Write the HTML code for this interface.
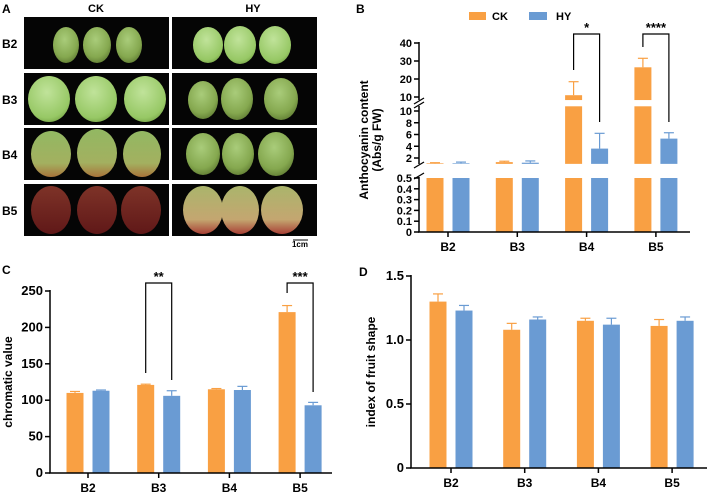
<!DOCTYPE html>
<html><head><meta charset="utf-8"><style>
body{margin:0;background:#fff;width:708px;height:498px;overflow:hidden}
svg{font-family:"Liberation Sans",Arial,sans-serif}
</style></head><body>
<svg id="s" width="708" height="498" viewBox="0 0 708 498">
<defs>
<radialGradient id="g" cx="45%" cy="35%" r="70%"><stop offset="0" stop-color="#a9cc7a"/><stop offset="0.7" stop-color="#85a84f"/><stop offset="1" stop-color="#5e7a32"/></radialGradient>
<radialGradient id="gl" cx="45%" cy="35%" r="70%"><stop offset="0" stop-color="#c0e39a"/><stop offset="0.8" stop-color="#97c865"/><stop offset="1" stop-color="#76a346"/></radialGradient>
<linearGradient id="gb4" x1="0" y1="0" x2="0" y2="1"><stop offset="0" stop-color="#92b862"/><stop offset="0.7" stop-color="#a3b060"/><stop offset="1" stop-color="#a8743a"/></linearGradient>
<linearGradient id="gr" x1="0" y1="0" x2="0" y2="1"><stop offset="0" stop-color="#7e3328"/><stop offset="1" stop-color="#601818"/></linearGradient>
<linearGradient id="gy" x1="0" y1="0" x2="0" y2="1"><stop offset="0" stop-color="#aab56c"/><stop offset="0.7" stop-color="#c4a670"/><stop offset="1" stop-color="#a84036"/></linearGradient>
</defs>
<g id="pa"></g>
<g id="pb"></g>
<g id="pc"></g>
<g id="pd"></g>
</svg>
<script>
const categories=["B2","B3","B4","B5"];
const anthoCK=[1.1,1.3,11,26.5];
const anthoCKErr=[0.1,0.15,7.5,5];
const anthoHY=[1.1,1.2,3.6,5.3];
const anthoHYErr=[0.2,0.3,2.6,1.0];
const chromCK=[110,121,115,221];
const chromCKErr=[2,1,1,9];
const chromHY=[113,106,114,93];
const chromHYErr=[1,7,5,4];
const shapeCK=[1.30,1.08,1.15,1.11];
const shapeCKErr=[0.06,0.05,0.02,0.05];
const shapeHY=[1.23,1.16,1.12,1.15];
const shapeHYErr=[0.04,0.02,0.05,0.03];
const chromTicks=[0,50,100,150,200,250];
const shapeTicks=[0,0.5,1.0,1.5];
const shapeTickLabels=["0","0.5","1.0","1.5"];
const anthoLowTicks=[0,0.1,0.2,0.3,0.4,0.5];
const anthoMidTicks=[2,4,6,8,10];
const anthoHighTicks=[10,20,30,40];

const NS="http://www.w3.org/2000/svg";
const OR="#F9A043",BL="#6A9BD3";
function mk(p,t,a,txt){const e=document.createElementNS(NS,t);for(const k in a)e.setAttribute(k,a[k]);if(txt!=null)e.textContent=txt;p.appendChild(e);return e;}

// Panel A
const pa=document.getElementById('pa');
let t=mk(pa,'text',{x:2,y:13,'font-size':12,'font-weight':'bold'},'A');

t=mk(pa,'text',{x:96,y:12,'font-size':11,'font-weight':'bold','text-anchor':'middle'},'CK');

t=mk(pa,'text',{x:253,y:12,'font-size':11,'font-weight':'bold','text-anchor':'middle'},'HY');

const rowsY=[17,73,128,184];
const fruits=[
 [[[66,45,13,18],[97,45,14,18],[129,45,13,18]],[[208,45,15,18],[240,45,16,19],[275,45,16,19]],'url(#g)','url(#gl)'],
 [[[49,99,21,23],[96,99,21,23],[145,99,21,23]],[[203,100,15,19],[237,99,16,21],[281,99,17,21]],'url(#gl)','url(#g)'],
 [[[51,154,20,23],[97,153,20,24],[142,154,19,23]],[[203,154,17,21],[238,154,16,21],[276,154,18,22]],'url(#gb4)','url(#g)'],
 [[[51,210,20,24],[97,210,20,24],[141,210,20,24]],[[203,210,20,24],[240,210,19,24],[282,210,21,24]],'url(#gr)','url(#gy)']
];
fruits.forEach((r,i)=>{
 const bg1=mk(pa,'rect',{x:24,y:rowsY[i],width:145,height:52,fill:'#050505'});
 
 const bg2=mk(pa,'rect',{x:172,y:rowsY[i],width:145,height:52,fill:'#050505'});
 
 r[0].forEach(f=>{const e=mk(pa,'ellipse',{cx:f[0],cy:f[1],rx:f[2],ry:f[3],fill:r[2]});});
 r[1].forEach(f=>{const e=mk(pa,'ellipse',{cx:f[0],cy:f[1],rx:f[2],ry:f[3],fill:r[3]});});
 const l=mk(pa,'text',{x:2,y:rowsY[i]+31,'font-size':12,'font-weight':'bold'},categories[i]);
 
});
mk(pa,'line',{x1:293,y1:240,x2:308,y2:240,stroke:'#000','stroke-width':1});
t=mk(pa,'text',{x:300,y:247,'font-size':8,'font-weight':'bold','text-anchor':'middle'},'1cm');


function bar(g,x,yTop,yBot,w,c,name){const e=mk(g,'rect',{x:x-w/2,y:Math.min(yTop,yBot),width:w,height:Math.abs(yBot-yTop),fill:c});return e;}
function err(g,x,y1,y2,c){mk(g,'line',{x1:x,y1:y1,x2:x,y2:y2,stroke:c,'stroke-width':1.2});mk(g,'line',{x1:x-5,y1:y2,x2:x+5,y2:y2,stroke:c,'stroke-width':1.2});}
function bracket(g,x1,x2,yt,yl,yr,stars){mk(g,'polyline',{points:`${x1},${yl} ${x1},${yt} ${x2},${yt} ${x2},${yr}`,fill:'none',stroke:'#000','stroke-width':1.2});
 const s=mk(g,'text',{x:(x1+x2)/2,y:yt-2,'font-size':13,'font-weight':'bold','text-anchor':'middle'},stars);}
function xcat(g,cx,yAxis){categories.forEach((c,i)=>{const x=cx(i);mk(g,'line',{x1:x,y1:yAxis,x2:x,y2:yAxis+5,stroke:'#000','stroke-width':1.5});
 const l=mk(g,'text',{x:x,y:yAxis+19,'font-size':12,'font-weight':'bold','text-anchor':'middle'},c);});}
function ytick(g,xAxis,y,lab,fs){mk(g,'line',{x1:xAxis-5,y1:y,x2:xAxis,y2:y,stroke:'#000','stroke-width':1.5});
 const l=mk(g,'text',{x:xAxis-7,y:y+4,'font-size':fs,'font-weight':'bold','text-anchor':'end'},lab);}
function ytitle(g,x,y,lines){lines.forEach((s,i)=>{const l=mk(g,'text',{x:0,y:0,'font-size':12,'font-weight':'bold','text-anchor':'middle',transform:`translate(${x+i*13},${y}) rotate(-90)`},s);});}

// Panel C
const pc=document.getElementById('pc');
t=mk(pc,'text',{x:2,y:274,'font-size':12,'font-weight':'bold'},'C');
const cxC=i=>88+i*70.7, yC=v=>473-v*182/250;
chromTicks.forEach(v=>ytick(pc,50,yC(v),String(v),13));
categories.forEach((c,i)=>{
 bar(pc,cxC(i)-13,yC(chromCK[i]),yC(0),17,OR,'bar-ck-'+c);err(pc,cxC(i)-13,yC(chromCK[i]),yC(chromCK[i]+chromCKErr[i]),OR);
 bar(pc,cxC(i)+13,yC(chromHY[i]),yC(0),17,BL,'bar-hy-'+c);err(pc,cxC(i)+13,yC(chromHY[i]),yC(chromHY[i]+chromHYErr[i]),BL);
});
mk(pc,'line',{x1:50,y1:290,x2:50,y2:473,stroke:'#000','stroke-width':1.5});
mk(pc,'line',{x1:49,y1:473,x2:332,y2:473,stroke:'#000','stroke-width':1.5});
xcat(pc,cxC,473);
ytitle(pc,12,382,['chromatic value']);
bracket(pc,cxC(1)-13,cxC(1)+13,283,373,380,'**');
bracket(pc,cxC(3)-13,cxC(3)+13,283,293,392,'***');

// Panel D
const pd=document.getElementById('pd');
t=mk(pd,'text',{x:359,y:276,'font-size':12,'font-weight':'bold'},'D');
const cxD=i=>451+i*73.7, yD=v=>468-v*192/1.5;
shapeTicks.forEach((v,i)=>ytick(pd,411,yD(v),shapeTickLabels[i],13));
categories.forEach((c,i)=>{
 bar(pd,cxD(i)-13,yD(shapeCK[i]),yD(0),17,OR,'bar-ck-'+c);err(pd,cxD(i)-13,yD(shapeCK[i]),yD(shapeCK[i]+shapeCKErr[i]),OR);
 bar(pd,cxD(i)+13,yD(shapeHY[i]),yD(0),17,BL,'bar-hy-'+c);err(pd,cxD(i)+13,yD(shapeHY[i]),yD(shapeHY[i]+shapeHYErr[i]),BL);
});
mk(pd,'line',{x1:411,y1:275,x2:411,y2:468,stroke:'#000','stroke-width':1.5});
mk(pd,'line',{x1:410,y1:468,x2:707,y2:468,stroke:'#000','stroke-width':1.5});
xcat(pd,cxD,468);
ytitle(pd,375,372,['index of fruit shape']);

// Panel B
const pb=document.getElementById('pb');
t=mk(pb,'text',{x:356,y:13,'font-size':12,'font-weight':'bold'},'B');
const cxB=i=>448+i*69.3;
const yLow=v=>232-v*54/0.5, yMid=v=>111+(10-v)*5.875, yHigh=v=>97-(v-10)*1.8;
const LOWTOP=0.5, MIDBOT=1.0, MIDTOP=10.8, HIGHBOT=8.3;
anthoLowTicks.forEach(v=>ytick(pb,419,yLow(v),String(v),11));
anthoMidTicks.forEach(v=>ytick(pb,419,yMid(v),String(v),11));
anthoHighTicks.forEach(v=>ytick(pb,419,yHigh(v),String(v),11));
function anthoBar(x,v,e,c,name){
 bar(pb,x,yLow(Math.min(v,LOWTOP)),yLow(0),17,c,name+'-low');
 if(v>MIDBOT) bar(pb,x,yMid(Math.min(v,MIDTOP)),yMid(MIDBOT),17,c,name+'-mid');
 if(v>MIDTOP){bar(pb,x,yHigh(v),yHigh(HIGHBOT),17,c,name+'-high');err(pb,x,yHigh(v),yHigh(v+e),c);}
 else err(pb,x,yMid(v),yMid(v+e),c);
}
categories.forEach((c,i)=>{
 anthoBar(cxB(i)-13,anthoCK[i],anthoCKErr[i],OR,'bar-ck-'+c);
 anthoBar(cxB(i)+13,anthoHY[i],anthoHYErr[i],BL,'bar-hy-'+c);
});
mk(pb,'line',{x1:419,y1:42,x2:419,y2:100,stroke:'#000','stroke-width':1.5});
mk(pb,'line',{x1:419,y1:106,x2:419,y2:164,stroke:'#000','stroke-width':1.5});
mk(pb,'line',{x1:419,y1:177,x2:419,y2:232,stroke:'#000','stroke-width':1.5});
[[100,106],[164,177]].forEach(b=>{mk(pb,'line',{x1:414,y1:b[0]+4,x2:424,y2:b[0]-2,stroke:'#000','stroke-width':1.3});mk(pb,'line',{x1:414,y1:b[1]+2,x2:424,y2:b[1]-4,stroke:'#000','stroke-width':1.3});});
mk(pb,'line',{x1:418,y1:232,x2:690,y2:232,stroke:'#000','stroke-width':1.5});
xcat(pb,cxB,232);
ytitle(pb,368,140,['Anthocyanin content','(Abs/g FW)']);
bracket(pb,cxB(2)-13,cxB(2)+13,34,70,122,'*');
bracket(pb,cxB(3)-13,cxB(3)+13,34,47,122,'****');
let lg=mk(pb,'g',{});
let r=mk(lg,'rect',{x:469,y:12,width:17,height:8,fill:OR});
t=mk(lg,'text',{x:492,y:20,'font-size':11,'font-weight':'bold'},'CK');
r=mk(lg,'rect',{x:529,y:12,width:18,height:8,fill:BL});
t=mk(lg,'text',{x:556,y:20,'font-size':11,'font-weight':'bold'},'HY');
</script>
</body></html>
